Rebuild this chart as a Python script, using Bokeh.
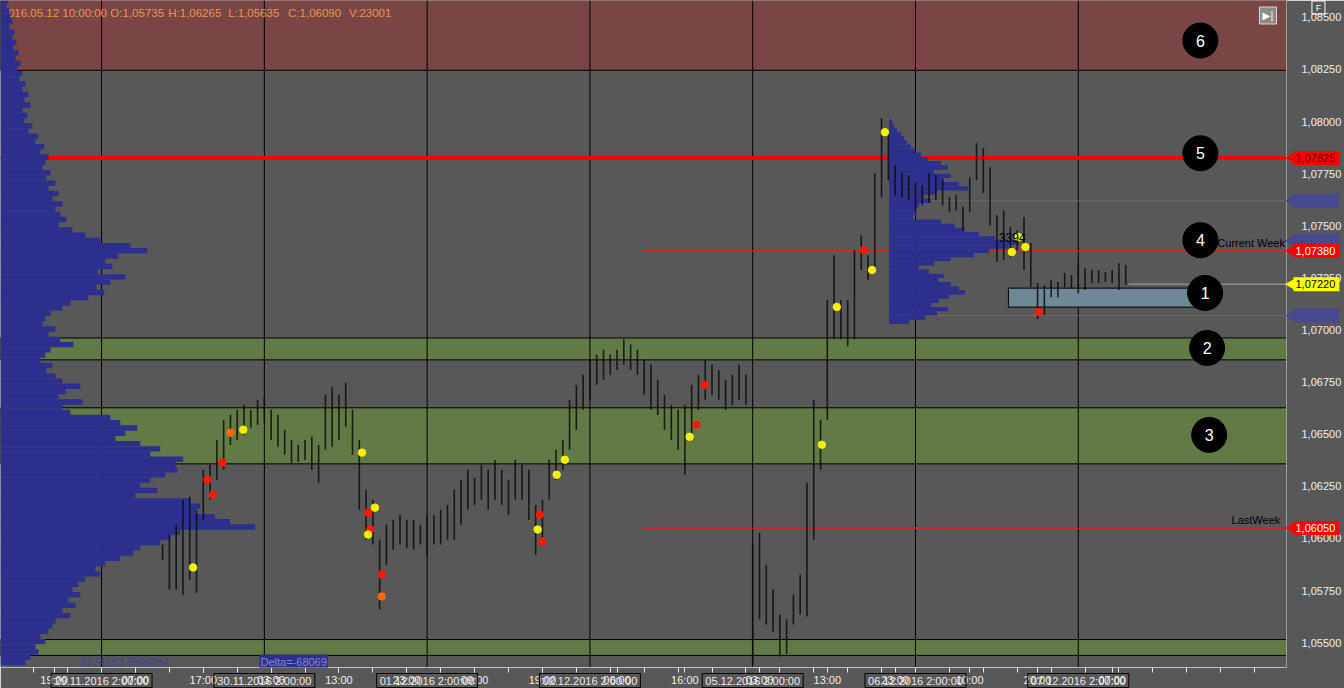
import numpy as np
from bokeh.plotting import figure
from bokeh.models import Range1d, FixedTicker, CustomJSTickFormatter, Label
from bokeh.embed import file_html
from bokeh.resources import INLINE
from bokeh.core.properties import value

FONT = "Liberation Sans"

# ---------------- data ----------------
bar_hours = list(range(9, 152))
bar_high = [
    1.05971, 1.06018, 1.06066, 1.06186, 1.06200, 1.06138, 1.06330, 1.06354, 1.06473, 1.06569,
    1.06593, 1.06617, 1.06641, 1.06617, 1.06665, 1.06680, 1.06617, 1.06593, 1.06521, 1.06473,
    1.06449, 1.06473, 1.06488, 1.06449, 1.06689, 1.06727, 1.06689, 1.06747, 1.06617, 1.06473,
    1.06234, 1.06186, 1.05995, 1.06066, 1.06089, 1.06113, 1.06089, 1.06089, 1.06066, 1.06113,
    1.06113, 1.06138, 1.06161, 1.06234, 1.06282, 1.06330, 1.06291, 1.06354, 1.06330, 1.06377,
    1.06330, 1.06282, 1.06377, 1.06354, 1.06330, 1.06161, 1.06186, 1.06377, 1.06426, 1.06473,
    1.06665, 1.06737, 1.06785, 1.06857, 1.06882, 1.06906, 1.06882, 1.06906, 1.06956, 1.06931,
    1.06906, 1.06857, 1.06833, 1.06761, 1.06689, 1.06641, 1.06617, 1.06641, 1.06737, 1.06785,
    1.06857, 1.06833, 1.06808, 1.06761, 1.06785, 1.06833, 1.06785, 1.05971, 1.06028, 1.05873,
    1.05755, 1.05635, 1.05613, 1.05730, 1.05826, 1.06267, 1.06665, 1.06569, 1.07144, 1.07359,
    1.07144, 1.07144, 1.07383, 1.07455, 1.07359, 1.07752, 1.08016, 1.07958, 1.07791, 1.07757,
    1.07743, 1.07705, 1.07695, 1.07752, 1.07743, 1.07719, 1.07637, 1.07647, 1.07590, 1.07733,
    1.07896, 1.07872, 1.07781, 1.07551, 1.07575, 1.07494, 1.07479, 1.07542, 1.07417, 1.07226,
    1.07216, 1.07240, 1.07231, 1.07274, 1.07264, 1.07321, 1.07297, 1.07288, 1.07288, 1.07278,
    1.07288, 1.07321, 1.07312,
]
bar_low = [
    1.05897, 1.05755, 1.05755, 1.05730, 1.05802, 1.05740, 1.06089, 1.06186, 1.06282, 1.06330,
    1.06449, 1.06473, 1.06497, 1.06531, 1.06545, 1.06555, 1.06473, 1.06440, 1.06402, 1.06363,
    1.06368, 1.06377, 1.06330, 1.06267, 1.06426, 1.06440, 1.06473, 1.06536, 1.06402, 1.06138,
    1.05995, 1.05971, 1.05659, 1.05873, 1.05946, 1.05971, 1.05956, 1.05946, 1.05971, 1.05922,
    1.05971, 1.05971, 1.05995, 1.05995, 1.06066, 1.06138, 1.06161, 1.06186, 1.06138, 1.06186,
    1.06161, 1.06113, 1.06186, 1.06186, 1.06089, 1.05922, 1.05971, 1.06186, 1.06282, 1.06330,
    1.06426, 1.06521, 1.06617, 1.06665, 1.06737, 1.06761, 1.06785, 1.06808, 1.06833, 1.06808,
    1.06785, 1.06689, 1.06617, 1.06593, 1.06521, 1.06473, 1.06426, 1.06306, 1.06473, 1.06617,
    1.06665, 1.06689, 1.06665, 1.06617, 1.06641, 1.06665, 1.06641, 1.05396, 1.05613, 1.05587,
    1.05554, 1.05434, 1.05444, 1.05587, 1.05635, 1.05626, 1.05995, 1.06330, 1.06569, 1.06956,
    1.06956, 1.06923, 1.06956, 1.07288, 1.07240, 1.07274, 1.07637, 1.07719, 1.07647, 1.07637,
    1.07623, 1.07575, 1.07599, 1.07609, 1.07623, 1.07599, 1.07566, 1.07575, 1.07479, 1.07566,
    1.07719, 1.07657, 1.07503, 1.07326, 1.07336, 1.07350, 1.07383, 1.07288, 1.07206, 1.07053,
    1.07072, 1.07157, 1.07157, 1.07206, 1.07201, 1.07176, 1.07192, 1.07226, 1.07226, 1.07231,
    1.07226, 1.07192, 1.07216,
]

# big-volume cluster markers
sig_hour = [13.5, 15.6, 16.4, 17.8, 19.0, 20.9, 38.4, 39.3, 40.3, 39.6, 39.3, 41.3, 41.3,
            64.6, 64.3, 65.0, 67.1, 68.3, 86.7, 87.7, 88.9, 106.2, 108.4, 112.4, 113.6,
            115.5, 135.2, 134.2, 136.2, 138.2]
sig_price = [1.05861, 1.06282, 1.06210, 1.06364, 1.06507, 1.06522, 1.06412, 1.06124, 1.06148,
             1.06043, 1.06019, 1.05827, 1.05722, 1.06115, 1.06043, 1.05985, 1.06306, 1.06378,
             1.06488, 1.06546, 1.06737, 1.06450, 1.07111, 1.07384, 1.07288, 1.07949, 1.07446,
             1.07374, 1.07398, 1.07087]
sig_kind = ["buy", "sell", "sell", "sell", "mid", "buy", "buy", "sell", "buy", "sell", "buy",
            "sell", "mid", "sell", "buy", "sell", "buy", "buy", "buy", "sell", "sell", "buy",
            "buy", "sell", "buy", "buy", "buy", "buy", "buy", "sell"]

# composite volume profile (thousand lots per 0.00025 level, from 1.08580 down)
comp_top = 1.08580
comp_step = 0.00025
comp_vol = [
    8, 6, 9, 10, 12, 9, 14, 12, 16, 13,
    18, 15, 20, 17, 22, 19, 25, 22, 28, 24,
    30, 22, 27, 24, 32, 28, 38, 35, 44, 40,
    48, 45, 42, 50, 46, 55, 48, 58, 52, 62,
    55, 60, 66, 58, 72, 85, 100, 130, 147, 118,
    105, 112, 98, 125, 110, 96, 104, 88, 70, 62,
    50, 45, 42, 55, 48, 60, 73, 50, 45, 40,
    52, 46, 55, 62, 80, 65, 58, 82, 62, 70,
    110, 120, 137, 125, 115, 140, 160, 150, 183, 175,
    177, 165, 150, 140, 157, 135, 190, 200, 195, 215,
    230, 255, 180, 170, 160, 140, 133, 120, 105, 95,
    100, 85, 78, 72, 80, 68, 75, 62, 70, 55,
    52, 48, 40, 45, 35, 38, 30, 25,
]

# current-week volume profile (per 0.0002 level, from 1.08000 down)
week_start = 116.1
week_top = 1.08000
week_step = 0.0002
week_vol = [
    3, 5, 8, 12, 15, 18, 22, 26, 32, 39,
    52, 59, 45, 62, 55, 70, 79, 48, 35, 42,
    30, 26, 28, 24, 52, 66, 76, 90, 106, 130,
    120, 100, 85, 62, 45, 30, 40, 55, 49, 62,
    70, 76, 60, 50, 42, 59, 48, 36, 20,
]

# zones
zone_bottom = [1.08246, 1.06857, 1.06358, 1.05439]
zone_top = [1.08700, 1.06962, 1.06627, 1.05515]
zone_box = (133.7, 161.3, 1.07110, 1.07201)   # zone 1: hours from/to, price low/high
zone_num = ["6", "5", "4", "1", "2", "3"]
zone_num_hour = [162.0, 162.0, 162.0, 162.7, 163.0, 163.3]
zone_num_price = [1.08389, 1.07848, 1.07431, 1.07178, 1.06914, 1.06497]

# levels
poc_composite = 1.07825
poc_current_week = 1.07380
poc_last_week = 1.06050
level_from_hour = 79.7
last_price = 1.07220
last_price_from = 151.4
week_va = [1.07620, 1.07070]
week_poc_tag = 1.07428

# time axis
day_hours = [0, 24, 48, 72, 96, 120, 144]
day_names = ["29.11.2016 2:00:00", "30.11.2016 2:00:00", "01.12.2016 2:00:00",
             "02.12.2016 2:00:00", "05.12.2016 2:00:00", "06.12.2016 2:00:00",
             "07.12.2016 2:00:00"]
tick_hours = [-7, 5, 15, 25, 35, 45, 55, 65, 76, 86, 97, 107, 117, 128, 138, 149]
tick_names = ["19:00", "07:00", "17:00", "03:00", "13:00", "23:00", "09:00", "19:00",
              "06:00", "16:00", "03:00", "13:00", "23:00", "10:00", "20:00", "07:00"]
minor_hours = list(range(-10, 175, 5))
price_ticks = [1.055, 1.0575, 1.06, 1.0625, 1.065, 1.0675, 1.07, 1.0725, 1.075, 1.0775,
               1.08, 1.0825, 1.085]

header_parts = ["2016.05.12 10:00:00", "O:1,05735", "H:1,06265", "L:1,05635", "C:1,06090",
                "V:23001"]

X0, X1 = -14.9, 174.7
Y0, Y1 = 1.05381, 1.08581
FRAME_W, FRAME_H = 1288, 667
PXH = (X1 - X0) / FRAME_W      # hours per screen pixel
PXP = (Y1 - Y0) / FRAME_H      # price per screen pixel

# ---------------- figure ----------------
BG = "#585858"
p = figure(width=1344, height=688, output_backend="svg", toolbar_location=None,
           x_range=Range1d(X0, X1), y_range=Range1d(Y0, Y1), y_axis_location="right",
           min_border_left=0, min_border_top=0, min_border_right=56, min_border_bottom=21,
           background_fill_color=BG, border_fill_color=BG, outline_line_color=None)
p.xgrid.visible = False
p.ygrid.visible = False

# zones
p.quad(left=X0, right=X1, bottom=zone_bottom[0], top=zone_top[0], fill_color="#7a4545",
       line_color="black", line_width=1)
p.quad(left=[X0] * 3, right=[X1] * 3, bottom=zone_bottom[1:], top=zone_top[1:],
       fill_color="#627a46", line_color="black", line_width=1)

# day separators
p.segment(x0=day_hours, y0=Y0, x1=day_hours, y1=Y1, line_color="black", line_width=1)

# header (partly hidden under the profile, as in the platform)
hx = [X0 + 1 * PXH, X0 + 110 * PXH, X0 + 168 * PXH, X0 + 228 * PXH, X0 + 288 * PXH, X0 + 349 * PXH]
p.text(x=hx, y=[Y1 - 12 * PXP] * len(hx), text=header_parts, text_color="#e49a48",
       text_font=value(FONT), text_font_size="11.5px", text_baseline="middle")

# levels
p.segment(x0=X0, y0=poc_composite, x1=X1, y1=poc_composite, line_color="#ff0000", line_width=4)
p.segment(x0=[level_from_hour] * 2, y0=[poc_current_week, poc_last_week],
          x1=[X1] * 2, y1=[poc_current_week, poc_last_week], line_color="#ff1010", line_width=1.3)
p.segment(x0=last_price_from, y0=last_price, x1=X1, y1=last_price, line_color="#a8a8a8", line_width=1)
p.segment(x0=[week_start] * 2, y0=week_va, x1=[X1] * 2, y1=week_va, line_color="#6c6c6c", line_width=1)

# zone 1 box
p.quad(left=zone_box[0], right=zone_box[1], bottom=zone_box[2], top=zone_box[3],
       fill_color="#6d8897", line_color="black", line_width=1)

# composite profile
comp_levels = comp_top - comp_step * np.arange(len(comp_vol))
p.hbar(y=comp_levels, left=X0, right=X0 + np.array(comp_vol) * PXH,
       height=comp_step * 1.04, fill_color="#2d2f8e", line_color=None)

# current week profile
week_levels = week_top - week_step * np.arange(len(week_vol))
p.hbar(y=week_levels, left=week_start, right=week_start + np.array(week_vol) * PXH,
       height=week_step * 1.04, fill_color="#2d2f8e", line_color=None)

# price bars
p.segment(x0=bar_hours, y0=bar_low, x1=bar_hours, y1=bar_high, line_color="#0c0c0c",
          line_width=1.6, line_alpha=0.85)

# cluster markers
kind_color = {"buy": "#f5f000", "sell": "#ff1a00", "mid": "#ff6a00"}
p.scatter(x=sig_hour, y=sig_price, size=7.5, marker="circle",
          color=[kind_color[k] for k in sig_kind])

# zone numbers
p.scatter(x=zone_num_hour, y=zone_num_price, size=35, marker="circle", color="black")
p.text(x=zone_num_hour, y=zone_num_price, text=zone_num, text_color="white",
       text_font=value(FONT), text_font_size="16px", text_align="center", text_baseline="middle")

# annotation texts
p.text(x=[164.5], y=[poc_current_week + 0.00037], text=["Current Week"], text_color="black",
       text_font=value(FONT), text_font_size="11px", text_baseline="middle")
p.text(x=[166.6], y=[poc_last_week + 0.0004], text=["LastWeek"], text_color="black",
       text_font=value(FONT), text_font_size="11px", text_baseline="middle")
p.text(x=[132.3], y=[1.07446], text=["3394"], text_color="black",
       text_font=value(FONT), text_font_size="12px", text_baseline="middle")

# bottom info
p.add_layout(Label(x=X0, y=Y0, x_offset=80, y_offset=6, text="5574153 5506084",
                   text_color="#3f3fa6", text_font=FONT, text_font_size="11px",
                   text_baseline="middle"))
p.add_layout(Label(x=X0, y=Y0, x_offset=259, y_offset=6, text="Delta=-68069",
                   text_color="#8a8ac4", text_font=FONT, text_font_size="11px",
                   text_baseline="middle", background_fill_color="#2d2f8e", padding=1))
p.add_layout(Label(x=X1, y=Y1, x_offset=-27, y_offset=-15, text="▶|", text_color="white",
                   text_font="DejaVu Sans", text_font_size="10px", text_baseline="middle",
                   background_fill_color="#8a8a8a", border_line_color="#d8d8d8", padding=3))

# ---- price tags on the right scale (drawn above the frame clip) ----
blue_tags = week_va + [week_poc_tag]
n = len(blue_tags)
p.rect(x=[X1 + 30 * PXH] * n, y=blue_tags, width=46, height=14, width_units="screen",
       height_units="screen", fill_color="#48488f", line_color=None, level="overlay")
p.scatter(x=[X1 + 6 * PXH] * n, y=blue_tags, marker="triangle", angle=np.pi / 2, size=13,
          fill_color="#48488f", line_color=None, level="overlay")

tag_price = [poc_composite, poc_current_week, last_price, poc_last_week]
tag_text = ["1,07825", "1,07380", "1,07220", "1,06050"]
tag_fill = ["#ff0000", "#ff0000", "#ffff00", "#ff0000"]
tag_ink = ["#5a0000", "white", "black", "white"]
m = len(tag_price)
p.rect(x=[X1 + 30 * PXH] * m, y=tag_price, width=46, height=14, width_units="screen",
       height_units="screen", fill_color=tag_fill, line_color=None, level="overlay")
p.scatter(x=[X1 + 6 * PXH] * m, y=tag_price, marker="triangle", angle=np.pi / 2, size=13,
          fill_color=tag_fill, line_color=None, level="overlay")
p.text(x=[X1 + 9 * PXH] * m, y=tag_price, text=tag_text, text_color=tag_ink,
       text_font=value(FONT), text_font_size="11px", text_baseline="middle", level="overlay")

# "F" box in the corner of the scale
p.rect(x=[X1 + 32 * PXH], y=[Y1 - 7 * PXP], width=13, height=13, width_units="screen",
       height_units="screen", fill_color=None, line_color="white", level="overlay")
p.text(x=[X1 + 32 * PXH], y=[Y1 - 7 * PXP], text=["F"], text_color="white",
       text_font=value(FONT), text_font_size="9px", text_align="center",
       text_baseline="middle", level="overlay")

# date boxes under the time axis
nd = len(day_hours)
p.rect(x=day_hours, y=[Y0 - 13 * PXP] * nd, width=101, height=14, width_units="screen",
       height_units="screen", fill_color=None, line_color="black", level="overlay")
p.text(x=day_hours, y=[Y0 - 13 * PXP] * nd, text=day_names, text_color="#ececec",
       text_font=value(FONT), text_font_size="11px", text_align="center",
       text_baseline="middle", level="overlay")

# axes
yax = p.yaxis[0]
yax.ticker = FixedTicker(ticks=price_ticks)
yax.formatter = CustomJSTickFormatter(code="return tick.toFixed(5).replace('.', ',');")
yax.axis_line_color = "#9c9c9c"
yax.major_tick_line_color = None
yax.minor_tick_line_color = None
yax.major_label_text_color = "#f0f0f0"
yax.major_label_text_font = FONT
yax.major_label_text_font_size = "11px"
yax.major_label_standoff = 9

xax = p.xaxis[0]
xax.ticker = FixedTicker(ticks=tick_hours, minor_ticks=minor_hours)
xax.major_label_overrides = {h: nm for h, nm in zip(tick_hours, tick_names)}
xax.axis_line_color = "#bdbdbd"
xax.major_tick_line_color = "#e8e8e8"
xax.minor_tick_line_color = "#e8e8e8"
xax.major_tick_in = 0
xax.major_tick_out = 5
xax.minor_tick_in = 0
xax.minor_tick_out = 5
xax.major_label_text_color = "#f0f0f0"
xax.major_label_text_font = FONT
xax.major_label_text_font_size = "11px"
xax.major_label_standoff = 1

open("out.html", "w").write(file_html(p, INLINE))
